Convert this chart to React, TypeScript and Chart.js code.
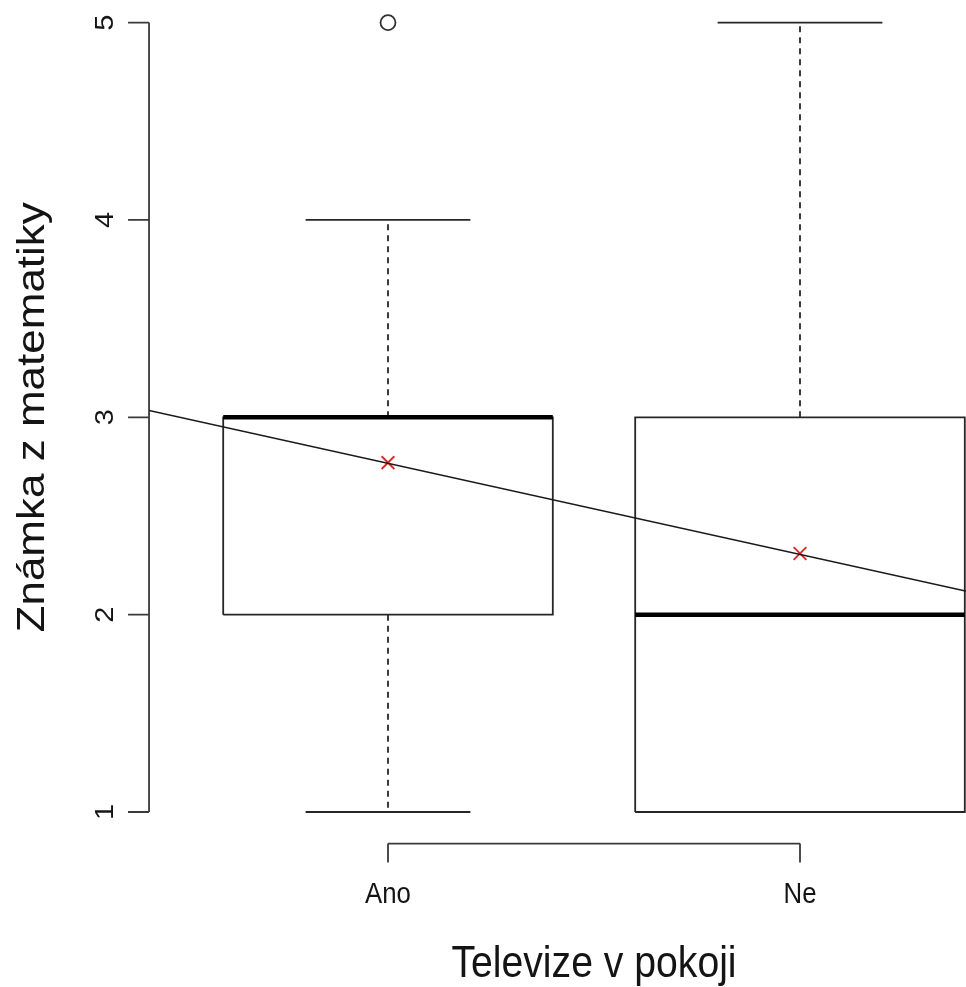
import React, { useEffect, useRef } from 'react';
import { Chart, registerables } from 'chart.js';

Chart.register(...registerables);

// ---------- data ----------
const categories = ['Ano', 'Ne'];
const positions = [1, 2];
const whiskerLow = [1, 1];
const quartile1 = [2, 1];
const medians = [3, 2];
const quartile3 = [3, 3];
const whiskerHigh = [4, 5];
const outliers: number[][] = [[5], []];
const means = [2.77, 2.31];
const regressionX = [0.42, 2.58];
const regressionY = [3.034, 2.038];
const yTicks = [1, 2, 3, 4, 5];
const xTitle = 'Televize v pokoji';
const yTitle = 'Známka z matematiky';

// ---------- geometry ----------
const BOX_HALF = 0.4;
const CAP_HALF = 0.2;
const X_MIN = 0.42;
const X_MAX = 2.58;
const Y_MIN = 0.84;
const Y_MAX = 5.16;
const CANVAS_W = 1080;
const CANVAS_H = 1007;
const OFFSET_Y = 20;
const SQUEEZE = 0.89;
const FONT_FAMILY = '"Liberation Sans", Arial, Helvetica, sans-serif';

const LINE = '#262626';

function seg(points: { x: number; y: number }[], extra: any = {}) {
  return {
    data: points,
    showLine: true,
    borderColor: LINE,
    borderWidth: 1.8,
    pointRadius: 0,
    pointHoverRadius: 0,
    borderJoinStyle: 'miter',
    borderCapStyle: 'butt',
    order: 6,
    ...extra,
  };
}

function buildDatasets() {
  const ds: any[] = [];
  positions.forEach((p, i) => {
    // whiskers (dashed)
    ds.push(seg([{ x: p, y: quartile3[i] }, { x: p, y: whiskerHigh[i] }], { borderDash: [6, 5], order: 7 }));
    ds.push(seg([{ x: p, y: quartile1[i] }, { x: p, y: whiskerLow[i] }], { borderDash: [6, 5], order: 7 }));
    // caps
    ds.push(seg([{ x: p - CAP_HALF, y: whiskerHigh[i] }, { x: p + CAP_HALF, y: whiskerHigh[i] }]));
    ds.push(seg([{ x: p - CAP_HALF, y: whiskerLow[i] }, { x: p + CAP_HALF, y: whiskerLow[i] }]));
    // box
    ds.push(
      seg([
        { x: p - BOX_HALF, y: quartile1[i] },
        { x: p + BOX_HALF, y: quartile1[i] },
        { x: p + BOX_HALF, y: quartile3[i] },
        { x: p - BOX_HALF, y: quartile3[i] },
        { x: p - BOX_HALF, y: quartile1[i] },
      ])
    );
    // median
    ds.push(
      seg([{ x: p - BOX_HALF, y: medians[i] }, { x: p + BOX_HALF, y: medians[i] }], {
        borderColor: '#000',
        borderWidth: 4.5,
        order: 5,
      })
    );
  });
  // outliers
  ds.push({
    data: positions.flatMap((p, i) => outliers[i].map((v) => ({ x: p, y: v }))),
    showLine: false,
    pointStyle: 'circle',
    pointRadius: 7.5,
    pointBorderWidth: 1.8,
    pointBorderColor: '#333',
    pointBackgroundColor: 'rgba(0,0,0,0)',
    order: 4,
  });
  // means
  ds.push({
    data: positions.map((p, i) => ({ x: p, y: means[i] })),
    showLine: false,
    pointStyle: 'crossRot',
    pointRadius: 9,
    pointBorderWidth: 2,
    pointBorderColor: '#d83030',
    pointBackgroundColor: '#d83030',
    order: 1,
  });
  // regression line
  ds.push(
    seg(
      regressionX.map((x, i) => ({ x, y: regressionY[i] })),
      { borderColor: '#1a1a1a', borderWidth: 1.5, order: 0 }
    )
  );
  return ds;
}

function drawText(ctx: CanvasRenderingContext2D, text: string, x: number, y: number, size: number, rotate = false) {
  ctx.save();
  ctx.translate(x, y);
  ctx.scale(SQUEEZE, 1);
  if (rotate) ctx.rotate(-Math.PI / 2);
  ctx.font = `${size}px ${FONT_FAMILY}`;
  ctx.textAlign = 'center';
  ctx.textBaseline = 'alphabetic';
  ctx.fillStyle = '#141414';
  ctx.fillText(text, 0, 0);
  ctx.restore();
}

const rAxes = {
  id: 'rAxes',
  beforeDatasetsDraw(chart: any) {
    const { ctx, scales, chartArea } = chart;
    const x = scales.x;
    const y = scales.y;
    const left = chartArea.left;
    const bottom = chartArea.bottom;
    ctx.save();
    ctx.strokeStyle = '#3a3a3a';
    ctx.lineWidth = 1.8;
    ctx.beginPath();
    // y axis
    ctx.moveTo(left, y.getPixelForValue(yTicks[0]));
    ctx.lineTo(left, y.getPixelForValue(yTicks[yTicks.length - 1]));
    yTicks.forEach((t) => {
      const py = y.getPixelForValue(t);
      ctx.moveTo(left, py);
      ctx.lineTo(left - 21, py);
    });
    // x axis
    ctx.moveTo(x.getPixelForValue(positions[0]), bottom);
    ctx.lineTo(x.getPixelForValue(positions[positions.length - 1]), bottom);
    positions.forEach((p) => {
      const px = x.getPixelForValue(p);
      ctx.moveTo(px, bottom);
      ctx.lineTo(px, bottom + 19);
    });
    ctx.stroke();
    ctx.restore();
  },
  afterDraw(chart: any) {
    const { ctx, scales, chartArea } = chart;
    const x = scales.x;
    const y = scales.y;
    const left = chartArea.left;
    const bottom = chartArea.bottom;
    yTicks.forEach((t) => drawText(ctx, String(t), left - 36, y.getPixelForValue(t), 29, true));
    positions.forEach((p, i) => drawText(ctx, categories[i], x.getPixelForValue(p), bottom + 59.4, 29));
    drawText(ctx, xTitle, (chartArea.left + chartArea.right) / 2, bottom + 133.4, 44);
    drawText(ctx, yTitle, left - 105, (chartArea.top + chartArea.bottom) / 2, 44, true);
  },
};

export default function App() {
  const ref = useRef<HTMLCanvasElement | null>(null);
  useEffect(() => {
    if (!ref.current) return;
    const chart = new Chart(ref.current, {
      type: 'scatter',
      data: { datasets: buildDatasets() },
      options: {
        animation: false,
        responsive: false,
        devicePixelRatio: 1,
        events: [],
        layout: {
          padding: {
            left: 149.04,
            right: CANVAS_W - 1038.96,
            top: 10.4,
            bottom: CANVAS_H - 863.6,
          },
        },
        scales: {
          x: { type: 'linear', min: X_MIN, max: X_MAX, display: false },
          y: { type: 'linear', min: Y_MIN, max: Y_MAX, display: false },
        },
        plugins: {
          legend: { display: false },
          tooltip: { enabled: false },
          title: { display: false },
        },
      } as any,
      plugins: [rAxes as any],
    });
    return () => chart.destroy();
  }, []);

  return (
    <div
      style={{
        position: 'fixed',
        left: 0,
        top: 0,
        width: 966,
        height: 987,
        overflow: 'hidden',
        background: '#fff',
      }}
    >
      <canvas
        ref={ref}
        width={CANVAS_W}
        height={CANVAS_H}
        style={{ position: 'absolute', left: 0, top: -OFFSET_Y, width: CANVAS_W, height: CANVAS_H }}
      />
    </div>
  );
}
